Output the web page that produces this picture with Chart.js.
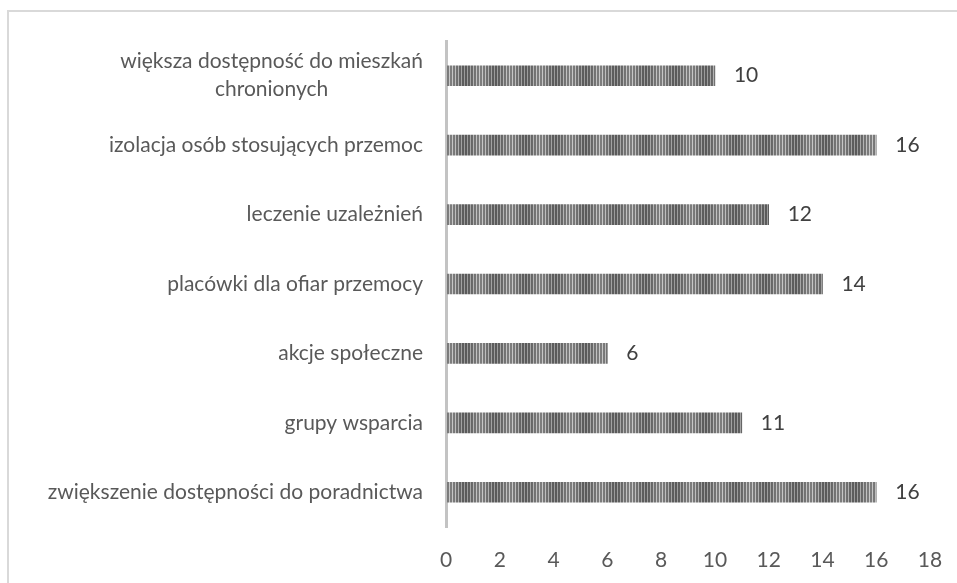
<!DOCTYPE html>
<html lang="pl">
<head>
<meta charset="utf-8">
<script src="https://cdn.jsdelivr.net/npm/chart.js@4/dist/chart.umd.min.js"></script>
<style>
  html, body { margin: 0; padding: 0; background: #fff; overflow: hidden; }
  #ramka { position: absolute; left: 7px; top: 10px; width: 980px; height: 600px;
           border-left: 2px solid #d9d9d9; border-top: 2px solid #d9d9d9; }
  #Chart { position: absolute; left: 0; top: 0; }
</style>
</head>
<body>
<div id="ramka"></div>
<canvas id="Chart" width="957" height="583"></canvas>
<script>
'use strict';
// etykiety kategorii (od góry do dołu)
const kategorie = [
    ['większa dostępność do mieszkań', 'chronionych'],
    'izolacja osób stosujących przemoc',
    'leczenie uzależnień',
    'placówki dla ofiar przemocy',
    'akcje społeczne',
    'grupy wsparcia',
    'zwiększenie dostępności do poradnictwa'
];
// liczba wskazań
const wartosci = [10, 16, 12, 14, 6, 11, 16];
// zakres osi X
const osX = { min: 0, max: 18, krok: 2 };

const rodzina = 'Lato, "Open Sans", sans-serif';
const czcionka = '400 21px ' + rodzina;

//wzór wypełnienia słupków - pionowe paski
function stworzWzor() {
    const c = document.createElement('canvas');
    c.width = 30;
    c.height = 4;
    const g = c.getContext('2d');
    for (let x = 0; x < c.width; x++) {
        const m = 0.5 + 0.5 * Math.cos(2 * Math.PI * x / c.width);
        const v = (x % 3 < 2) ? Math.round(90 + 35 * m) : Math.round(155 + 45 * m);
        g.fillStyle = `rgb(${v},${v},${v})`;
        g.fillRect(x, 0, 1, c.height);
    }
    return g.createPattern(c, 'repeat');
}

//etykiety osi Y rysowane przy pozycjach ticków
const etykietyY = {
    id: 'etykietyY',
    afterDraw(chart) {
        const ctx = chart.ctx;
        const skala = chart.scales.y;
        const prawa = 423;
        ctx.save();
        ctx.font = czcionka;
        ctx.fillStyle = '#595959';
        ctx.textBaseline = 'middle';
        skala.ticks.forEach((t, i) => {
            const y = skala.getPixelForTick(i);
            const linie = Array.isArray(kategorie[i]) ? kategorie[i] : [kategorie[i]];
            if (linie.length === 1) {
                ctx.textAlign = 'right';
                ctx.fillText(linie[0], prawa, y);
            } else {
                const szer = Math.max(...linie.map(l => ctx.measureText(l).width));
                const srodek = prawa - szer / 2;
                const wys = 28;
                ctx.textAlign = 'center';
                linie.forEach((l, j) => {
                    ctx.fillText(l, srodek, y + (j - (linie.length - 1) / 2) * wys);
                });
            }
        });
        ctx.restore();
    }
};

//wartości przy słupkach
const wartosciSlupkow = {
    id: 'wartosciSlupkow',
    afterDatasetsDraw(chart) {
        const ctx = chart.ctx;
        const meta = chart.getDatasetMeta(0);
        ctx.save();
        ctx.font = czcionka;
        ctx.fillStyle = '#404040';
        ctx.textAlign = 'left';
        ctx.textBaseline = 'middle';
        meta.data.forEach((bar, i) => {
            ctx.fillText(String(chart.data.datasets[0].data[i]), bar.x + 19, bar.y);
        });
        ctx.restore();
    }
};

function creerChart() {
    const ctx = document.getElementById('Chart').getContext('2d');
    new Chart(ctx, {
        type: 'bar',
        data: {
            labels: kategorie,
            datasets: [{
                data: wartosci,
                backgroundColor: stworzWzor(),
                borderWidth: 0,
                barThickness: 20
            }]
        },
        options: {
            indexAxis: 'y',
            responsive: false,
            animation: false,
            devicePixelRatio: 1,
            layout: { padding: { left: 0, top: 41, right: 27, bottom: 0 } },
            plugins: { legend: { display: false }, tooltip: { enabled: false } },
            scales: {
                x: {
                    min: osX.min,
                    max: osX.max,
                    grid: { display: false },
                    border: { display: false },
                    ticks: {
                        stepSize: osX.krok,
                        color: '#595959',
                        padding: 13,
                        font: { family: rodzina, size: 21, weight: 400 }
                    },
                    afterFit: s => { s.height = 56; }
                },
                y: {
                    grid: { display: false },
                    border: { display: true, color: '#c3c3c3', width: 3 },
                    ticks: { display: false },
                    afterFit: s => { s.width = 446; }
                }
            }
        },
        plugins: [etykietyY, wartosciSlupkow]
    });
}

creerChart();
</script>
</body>
</html>
